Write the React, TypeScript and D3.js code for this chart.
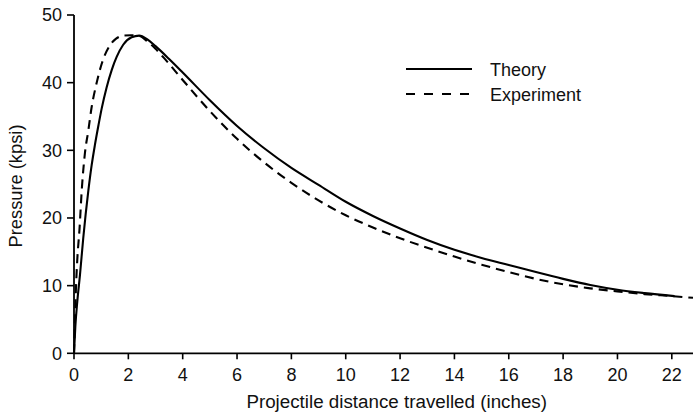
import React from "react";
import * as d3 from "d3";

const xTicks = [0, 2, 4, 6, 8, 10, 12, 14, 16, 18, 20, 22];
const yTicks = [0, 10, 20, 30, 40, 50];

const theoryX = [0, 0.05, 0.12, 0.22, 0.34, 0.53, 0.65, 0.77, 0.9, 1.02, 1.2, 1.39, 1.57, 1.81, 2.12, 2.4, 2.7, 3.0, 3.5, 4, 5, 6, 7, 8, 9, 10, 11, 12, 13, 14, 15, 16, 17, 18, 19, 20, 21, 22.1];
const theoryY = [0, 4, 7.6, 11.6, 17, 24.1, 27.8, 30.8, 33.7, 36.2, 39.3, 41.9, 43.8, 45.6, 46.7, 46.95, 46.4, 45.4, 43.5, 41.5, 37.4, 33.6, 30.3, 27.4, 24.9, 22.4, 20.3, 18.45, 16.75, 15.3, 14.1, 13.05, 12.0, 11.0, 10.1, 9.4, 8.9, 8.45];

const expX = [0, 0.03, 0.07, 0.12, 0.2, 0.29, 0.4, 0.53, 0.65, 0.83, 1.02, 1.32, 1.55, 1.81, 2.1, 2.4, 2.7, 3.0, 3.3, 4, 5, 6, 7, 8, 9, 10, 11, 12, 13, 14, 15, 16, 17, 18, 19, 20, 21, 22, 22.78];
const expY = [0, 4, 9.4, 13.8, 18.2, 24.4, 29.5, 33, 36.4, 39.9, 42.8, 45.5, 46.5, 46.95, 47.0, 46.9, 46.1, 45.0, 43.7, 40.4, 35.8, 31.7, 28.2, 25.2, 22.6, 20.4, 18.6, 17.0, 15.6, 14.3, 13.1, 12.0, 11.0, 10.2, 9.6, 9.15, 8.75, 8.45, 8.2];

const legendLabels = ["Theory", "Experiment"];
const xLabel = "Projectile distance travelled (inches)";
const yLabel = "Pressure (kpsi)";

export default function App() {
  const W = 693;
  const H = 415;
  const x = d3.scaleLinear().domain([0, 22.78]).range([74, 693]);
  const y = d3.scaleLinear().domain([0, 50]).range([353.3, 15]);
  const line = d3
    .line<[number, number]>()
    .x((d) => x(d[0]))
    .y((d) => y(d[1]))
    .curve(d3.curveMonotoneX);
  const theory = theoryX.map((v, i) => [v, theoryY[i]] as [number, number]);
  const exp = expX.map((v, i) => [v, expY[i]] as [number, number]);
  const font = "'Liberation Sans', Arial, Helvetica, sans-serif";
  const x0 = x(0);
  const y0 = y(0);

  return (
    <svg
      width={W}
      height={H}
      style={{ position: "absolute", left: 0, top: 0, background: "#fff" }}
      fontFamily={font}
    >
      <rect x={0} y={0} width={W} height={H} fill="#fff" />
      <line x1={x0} x2={x0} y1={y(50)} y2={y0} stroke="#000" strokeWidth={1.8} />
      <line x1={x0} x2={693} y1={y0} y2={y0} stroke="#000" strokeWidth={1.8} />
      {yTicks.map((t) => (
        <g key={"y" + t}>
          <line x1={x0 - 7} x2={x0} y1={y(t)} y2={y(t)} stroke="#000" strokeWidth={1.6} />
          <text x={62} y={y(t)} dy="0.35em" textAnchor="end" fontSize={18} fill="#111">
            {t}
          </text>
        </g>
      ))}
      {xTicks.map((t) => (
        <g key={"x" + t}>
          <line x1={x(t)} x2={x(t)} y1={y0} y2={y0 + 6} stroke="#000" strokeWidth={1.6} />
          <text x={x(t)} y={y0 + 28} textAnchor="middle" fontSize={18} fill="#111">
            {t}
          </text>
        </g>
      ))}
      <text x={396.7} y={408} textAnchor="middle" fontSize={18.8} fill="#111">
        {xLabel}
      </text>
      <text
        transform={`translate(21.5,186) rotate(-90)`}
        textAnchor="middle"
        fontSize={18.3}
        fill="#111"
      >
        {yLabel}
      </text>
      <path d={line(theory) || ""} fill="none" stroke="#000" strokeWidth={2.1} strokeLinejoin="round" />
      <path d={line(exp) || ""} fill="none" stroke="#000" strokeWidth={2.1} strokeDasharray="9,6" />
      <line x1={406} x2={472} y1={69} y2={69} stroke="#000" strokeWidth={2.1} />
      <text x={490} y={75.5} fontSize={18} fill="#111">
        {legendLabels[0]}
      </text>
      <line x1={406} x2={472} y1={94} y2={94} stroke="#000" strokeWidth={2.1} strokeDasharray="9,9" />
      <text x={490} y={100.5} fontSize={18} fill="#111">
        {legendLabels[1]}
      </text>
    </svg>
  );
}
